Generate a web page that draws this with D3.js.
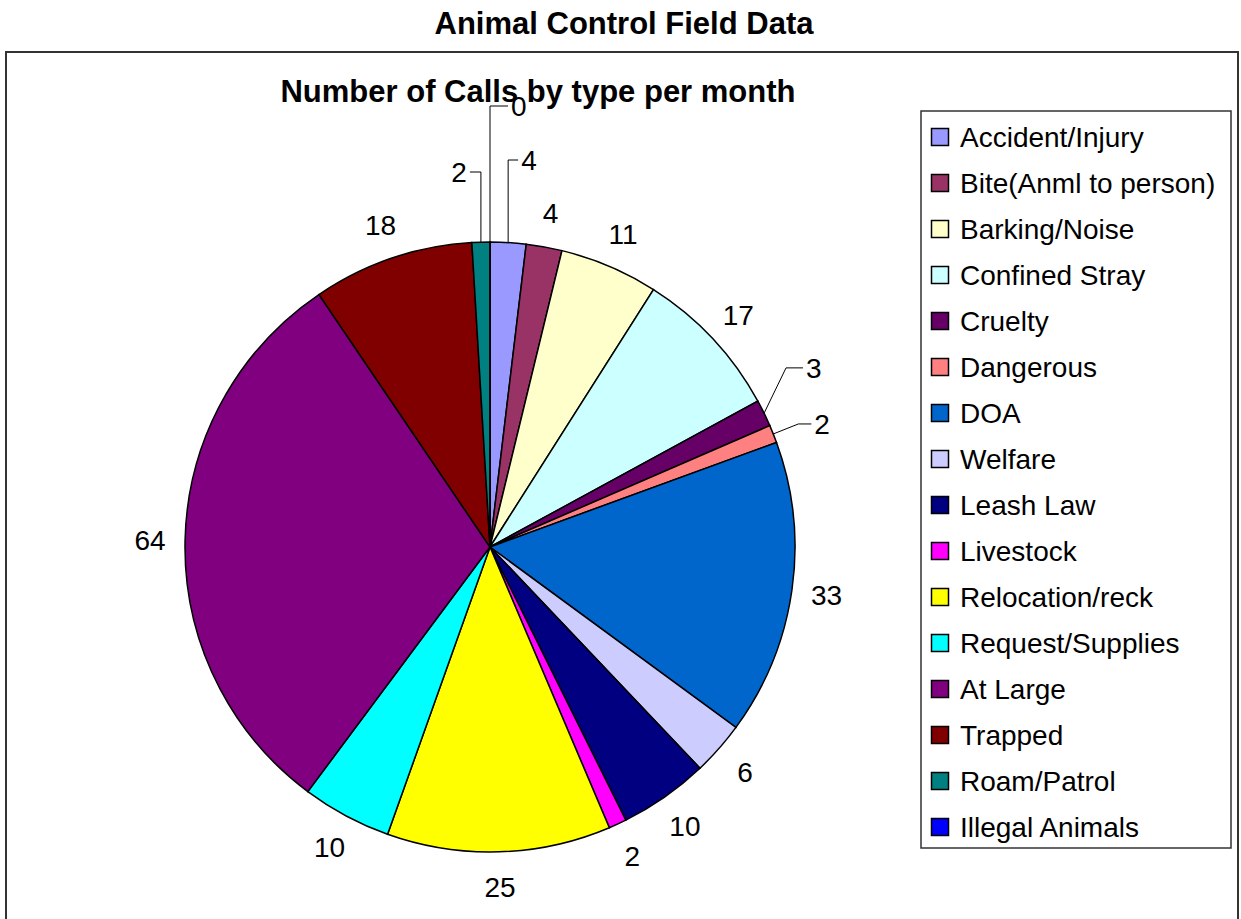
<!DOCTYPE html>
<meta charset="utf-8">
<script src="https://d3js.org/d3.v7.min.js"></script>
<style>
  body { margin: 0; background: #fff; }
  text { font-family: "Liberation Sans", Arial, sans-serif; fill: #000; }
</style>
<div id="chart"></div>
<script>

// call types, counts and their colours (Excel palette)
var categories = ["Accident/Injury", "Bite(Anml to person)", "Barking/Noise", "Confined Stray",
  "Cruelty", "Dangerous", "DOA", "Welfare", "Leash Law", "Livestock", "Relocation/reck",
  "Request/Supplies", "At Large", "Trapped", "Roam/Patrol", "Illegal Animals"];
var values = [4, 4, 11, 17, 3, 2, 33, 6, 10, 2, 25, 10, 64, 18, 2, 0];
var colors = ["#9999FF", "#993366", "#FFFFCC", "#CCFFFF", "#660066", "#FF8080", "#0066CC",
  "#CCCCFF", "#000080", "#FF00FF", "#FFFF00", "#00FFFF", "#800080", "#800000", "#008080", "#0000FF"];

var W = 1241, H = 919;
var cx = 490, cy = 547, radius = 305, labelR = 340;

var svg = d3.select("#chart").append("svg")
    .attr("width", W)
    .attr("height", H);

// outer chart border
svg.append("rect")
    .attr("x", 6).attr("y", 52)
    .attr("width", 1232).attr("height", 900)
    .attr("fill", "none")
    .attr("stroke", "#333")
    .attr("stroke-width", 2);

svg.append("text")
    .attr("x", 624).attr("y", 34)
    .attr("text-anchor", "middle")
    .style("font-size", "31px").style("font-weight", "bold")
    .text("Animal Control Field Data");

svg.append("text")
    .attr("x", 538).attr("y", 102)
    .attr("text-anchor", "middle")
    .style("font-size", "31px").style("font-weight", "bold")
    .text("Number of Calls by type per month");

var table = categories.map(function(c, i) { return {name: c, value: values[i], color: colors[i]}; });

var pie = d3.pie().sort(null).value(function(d) { return d.value; });
var arcs = pie(table);
var arc = d3.arc().innerRadius(0).outerRadius(radius);

var g = svg.append("g").attr("transform", "translate(" + cx + "," + cy + ")");

g.selectAll("path")
  .data(arcs)
  .enter().append("path")
    .attr("d", arc)
    .attr("fill", function(d) { return d.data.color; })
    .attr("stroke", "#000")
    .attr("stroke-width", 1.5);

function polar(r, a) { return [r * Math.sin(a), -r * Math.cos(a)]; }
function mid(d) { return (d.startAngle + d.endAngle) / 2; }

// labels pushed away from crowded spots get a leader line
// rise: lift above pie top, out/turn: radial elbow, dir: tail side, tail: tail length
var leaders = {
  "Illegal Animals": {rise: 136, dir: 1, tail: 18},
  "Roam/Patrol": {rise: 70, dir: -1, tail: 11},
  "Accident/Injury": {rise: 82, dir: 1, tail: 10},
  "Cruelty": {out: 346, turn: -0.09, dir: 1, tail: 17},
  "Dangerous": {out: 332, turn: 0, dir: 1, tail: 13}
};

arcs.forEach(function(d) {
  var a = mid(d);
  var lead = leaders[d.data.name];
  if (!lead) {
    var p = polar(labelR, a);
    g.append("text")
        .attr("x", p[0]).attr("y", p[1])
        .attr("text-anchor", "middle")
        .attr("dy", "0.36em")
        .style("font-size", "28px")
        .text(d.value);
    return;
  }
  var e = polar(radius, a), k;
  if (lead.rise) {
    k = [e[0], -radius - lead.rise];
  } else {
    k = polar(lead.out, a + lead.turn);
  }
  var t = [k[0] + lead.dir * lead.tail, k[1]];
  g.append("path")
      .attr("d", d3.line()([e, k, t]))
      .attr("fill", "none")
      .attr("stroke", "#000")
      .attr("stroke-width", 1);
  g.append("text")
      .attr("x", t[0] + lead.dir * 3).attr("y", k[1])
      .attr("text-anchor", lead.dir > 0 ? "start" : "end")
      .attr("dy", "0.36em")
      .style("font-size", "28px")
      .text(d.value);
});

// legend
var legend = svg.append("g");
legend.append("rect")
    .attr("x", 921).attr("y", 111)
    .attr("width", 310).attr("height", 737)
    .attr("fill", "#fff")
    .attr("stroke", "#333")
    .attr("stroke-width", 1.5);

var item = legend.selectAll("g.item")
  .data(table)
  .enter().append("g")
    .attr("class", "item")
    .attr("transform", function(d, i) { return "translate(931," + (137 + i * 46) + ")"; });

item.append("rect")
    .attr("x", 0.5).attr("y", -8.5)
    .attr("width", 17).attr("height", 17)
    .attr("fill", function(d) { return d.color; })
    .attr("stroke", "#000")
    .attr("stroke-width", 1.5);

item.append("text")
    .attr("x", 29).attr("y", 0)
    .attr("dy", "0.36em")
    .style("font-size", "28px")
    .text(function(d) { return d.name; });

</script>
